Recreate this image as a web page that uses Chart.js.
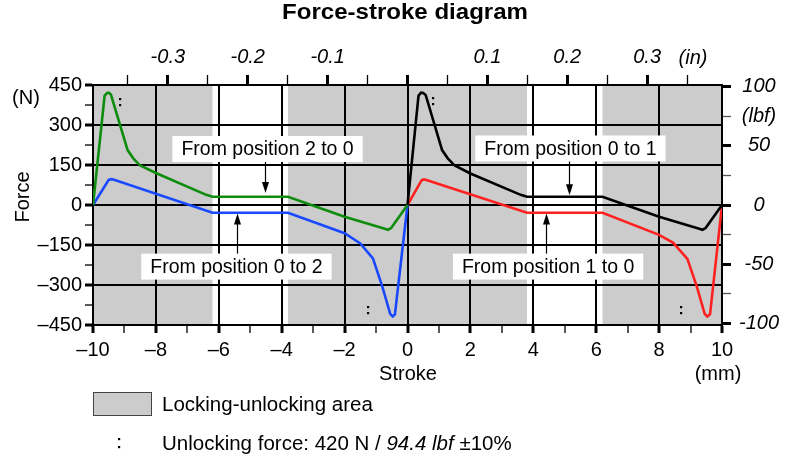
<!DOCTYPE html>
<html>
<head>
<meta charset="utf-8">
<title>Force-stroke diagram</title>
<script src="https://cdn.jsdelivr.net/npm/chart.js"></script>
<style>
  html, body { margin: 0; padding: 0; background: #fff; }
  #Chart { display: block; }
</style>
</head>
<body>
<canvas id="Chart" width="797" height="454"></canvas>
<script>
// stroke in mm, force in N
const stroke2to0 = [-10, -9.63, -9.55, -9.5, -9.43, -8.9, -8.72, -8.5, -8.0, -6.4, -6.2, -3.8, -2.0, -0.75, -0.62, -0.52, 0];
const force2to0 = [0, 410, 420, 421, 414, 206, 175, 148, 120, 38, 31, 31, -44, -88, -93, -86, 0];

const stroke0to2 = [-10, -9.5, -9.42, -9.33, -6.2, -3.8, -2.0, -1.5, -1.1, -0.8, -0.55, -0.47, -0.4, 0];
const force0to2 = [0, 94, 97, 95, -29, -29, -106, -144, -200, -306, -408, -418, -410, 0];

const stroke0to1 = [0, 0.35, 0.43, 0.5, 0.58, 1.1, 1.28, 1.5, 2.0, 3.6, 3.8, 6.2, 8.0, 9.25, 9.38, 9.48, 10];
const force0to1 = [0, 410, 421, 420, 412, 206, 175, 148, 118, 38, 31, 31, -44, -88, -93, -86, 0];

const stroke1to0 = [0, 0.45, 0.52, 0.6, 3.8, 6.2, 8.0, 8.45, 8.9, 9.2, 9.45, 9.53, 9.62, 10];
const force1to0 = [0, 93, 96, 94, -29, -29, -112, -142, -202, -306, -408, -418, -410, 0];

const lockZones = [[-10, -6.2], [-3.8, 3.8], [6.2, 10]];

const strokeRange = [-10, 10];
const forceRange = [-450, 450];
const strokeTicks = [-10, -8, -6, -4, -2, 0, 2, 4, 6, 8, 10];
const forceTicks = [-450, -300, -150, 0, 150, 300, 450];
const inchTicks = [-0.3, -0.2, -0.1, 0.1, 0.2, 0.3];
const lbfTicks = [-100, -50, 0, 50, 100];

const unlockForce = 420;      // N
const unlockForceLbf = 94.4;  // lbf

const MM_PER_IN = 25.4;
const N_PER_LBF = 4.44822;

const FONT = '"Liberation Sans", Arial, Helvetica, sans-serif';
Chart.defaults.font.family = FONT;
Chart.defaults.font.size = 20;
Chart.defaults.color = '#000';

const near = (list, v) => list.some(t => Math.abs(t - v) < 1e-6);
const enDash = v => (v < 0 ? '\u2013' + Math.abs(v) : String(v));
const isWhole = (v, step) => Math.abs(Math.round(v / step) - v / step) < 1e-6;

const series = [
  { label: 'From position 2 to 0', xs: stroke2to0, ys: force2to0, color: '#0e8c0e' },
  { label: 'From position 0 to 2', xs: stroke0to2, ys: force0to2, color: '#1948ff' },
  { label: 'From position 0 to 1', xs: stroke0to1, ys: force0to1, color: '#000000' },
  { label: 'From position 1 to 0', xs: stroke1to0, ys: force1to0, color: '#ff2020' }
];

// text boxes with an arrow pointing at the flat part of a curve (data units)
const callouts = [
  { text: 'From position 2 to 0', x: -4.45, y: 210, arrowX: -4.53, tipY: 45 },
  { text: 'From position 0 to 2', x: -5.44, y: -231, arrowX: -5.41, tipY: -32 },
  { text: 'From position 0 to 1', x: 5.18, y: 212, arrowX: 5.14, tipY: 37 },
  { text: 'From position 1 to 0', x: 4.47, y: -231, arrowX: 4.39, tipY: -32 }
];

// ':' marks next to the unlocking peaks
const peakMarks = [[-9.14, 388], [0.8, 390], [-1.25, -394], [8.69, -392]];

function drawColon(ctx, x, y, gap) {
  ctx.fillRect(Math.round(x) - 1, Math.round(y - gap / 2) - 1, 2.2, 2.2);
  ctx.fillRect(Math.round(x) - 1, Math.round(y + gap / 2) - 1, 2.2, 2.2);
}

const decorations = {
  id: 'decorations',
  beforeDraw(chart) {
    const { ctx, chartArea: a, scales: { x } } = chart;
    ctx.save();
    ctx.fillStyle = '#cccccc';
    lockZones.forEach(([from, to]) => {
      const l = x.getPixelForValue(from);
      const r = x.getPixelForValue(to);
      ctx.fillRect(l, a.top, r - l, a.bottom - a.top);
    });
    ctx.restore();
  },
  beforeDatasetsDraw(chart) {
    const { ctx, scales: { x, y } } = chart;
    ctx.save();
    ctx.font = '19.5px ' + FONT;
    ctx.textAlign = 'center';
    ctx.textBaseline = 'middle';
    callouts.forEach(c => {
      const cx = x.getPixelForValue(c.x);
      const cy = y.getPixelForValue(c.y);
      const w = ctx.measureText(c.text).width + 18;
      const h = 26;
      ctx.fillStyle = '#fff';
      ctx.fillRect(cx - w / 2, cy - h / 2, w, h);
      ctx.fillStyle = '#000';
      ctx.fillText(c.text, cx, cy + 1);

      const ax = Math.round(x.getPixelForValue(c.arrowX)) + 0.5;
      const tip = y.getPixelForValue(c.tipY);
      const down = tip > cy;
      const start = down ? cy + h / 2 : cy - h / 2;
      const dir = down ? 1 : -1;
      ctx.strokeStyle = '#000';
      ctx.lineWidth = 1.2;
      ctx.beginPath();
      ctx.moveTo(ax, start);
      ctx.lineTo(ax, tip - dir * 8);
      ctx.stroke();
      ctx.beginPath();
      ctx.moveTo(ax, tip);
      ctx.lineTo(ax - 3.5, tip - dir * 11);
      ctx.lineTo(ax + 3.5, tip - dir * 11);
      ctx.closePath();
      ctx.fill();
    });
    ctx.restore();
  },
  afterDraw(chart) {
    const { ctx, scales: { x, y } } = chart;
    ctx.save();
    ctx.fillStyle = '#000';

    // title, stretched to the same width as the printed heading
    ctx.font = 'bold 22px ' + FONT;
    ctx.textAlign = 'center';
    ctx.textBaseline = 'alphabetic';
    const title = 'Force-stroke diagram';
    const tw = ctx.measureText(title).width;
    ctx.save();
    ctx.translate(405, 19);
    ctx.scale(246 / tw, 1);
    ctx.fillText(title, 0, 0);
    ctx.restore();

    // axis titles and units
    ctx.font = '20px ' + FONT;
    ctx.fillText('Stroke', 408, 380);
    ctx.fillText('(mm)', 718, 380);
    ctx.textBaseline = 'middle';
    ctx.fillText('(N)', 26, 98);
    ctx.save();
    ctx.translate(23, 197);
    ctx.rotate(-Math.PI / 2);
    ctx.fillText('Force', 0, 0);
    ctx.restore();
    ctx.font = 'italic 20px ' + FONT;
    ctx.textBaseline = 'alphabetic';
    ctx.fillText('(in)', 693, 64);

    // unlocking marks
    peakMarks.forEach(([sx, f]) => drawColon(ctx, x.getPixelForValue(sx), y.getPixelForValue(f), 6));

    // legend
    ctx.fillStyle = '#cccccc';
    ctx.fillRect(93.5, 392.5, 58, 23);
    ctx.strokeStyle = '#444';
    ctx.lineWidth = 1;
    ctx.strokeRect(93.5, 392.5, 58, 23);
    ctx.fillStyle = '#000';
    ctx.textAlign = 'left';
    ctx.font = '20.5px ' + FONT;
    ctx.fillText('Locking-unlocking area', 162, 411);

    drawColon(ctx, 119, 443, 8);
    let tx = 162;
    const parts = [
      ['20.5px ', 'Unlocking force: ' + unlockForce + ' N / '],
      ['italic 20.5px ', unlockForceLbf.toFixed(1) + ' lbf'],
      ['20.5px ', ' \u00b110%']
    ];
    parts.forEach(([f, s]) => {
      ctx.font = f + FONT;
      ctx.fillText(s, tx, 450);
      tx += ctx.measureText(s).width;
    });
    ctx.restore();
  }
};

const tickW = (step) => c => (c.tick && isWhole(c.tick.value, step) ? 3 : 1.3);

new Chart(document.getElementById('Chart'), {
  type: 'line',
  data: {
    datasets: series.map(s => ({
      label: s.label,
      data: s.xs.map((v, i) => ({ x: v, y: s.ys[i] })),
      borderColor: s.color,
      borderWidth: 2.6,
      pointRadius: 0,
      tension: 0,
      fill: false,
      xAxisID: 'x',
      yAxisID: 'y'
    }))
  },
  options: {
    responsive: false,
    animation: false,
    devicePixelRatio: 1,
    layout: { padding: 0 },
    plugins: {
      legend: { display: false },
      tooltip: { enabled: false },
      title: { display: false }
    },
    scales: {
      x: {
        type: 'linear',
        position: 'bottom',
        min: strokeRange[0],
        max: strokeRange[1],
        afterFit: s => { s.height = 129; },
        ticks: {
          stepSize: 1,
          maxTicksLimit: 100,
          autoSkip: false,
          maxRotation: 0,
          padding: 5,
          callback: v => (near(strokeTicks, v) ? enDash(v) : '')
        },
        grid: {
          color: c => (c.tick && isWhole(c.tick.value, 2) ? '#000' : 'rgba(0,0,0,0)'),
          lineWidth: 2,
          tickLength: 8,
          tickColor: '#000',
          tickWidth: tickW(2)
        },
        border: { color: '#000', width: 2 }
      },
      x2: {
        type: 'linear',
        position: 'top',
        min: strokeRange[0] / MM_PER_IN,
        max: strokeRange[1] / MM_PER_IN,
        afterFit: s => { s.height = 85; },
        ticks: {
          stepSize: 0.05,
          includeBounds: false,
          maxTicksLimit: 100,
          autoSkip: false,
          maxRotation: 0,
          padding: 6,
          font: { style: 'italic', size: 20 },
          callback: v => (near(inchTicks, v) ? v.toFixed(1) : '')
        },
        grid: {
          drawOnChartArea: false,
          tickLength: 10,
          tickColor: '#000',
          tickWidth: tickW(0.1)
        },
        border: { display: false }
      },
      y: {
        type: 'linear',
        position: 'left',
        min: forceRange[0],
        max: forceRange[1],
        afterFit: s => { s.width = 93; },
        ticks: {
          stepSize: 75,
          maxTicksLimit: 100,
          autoSkip: false,
          padding: 3,
          callback: v => (near(forceTicks, v) ? enDash(v) : '')
        },
        grid: {
          color: c => (c.tick && isWhole(c.tick.value, 150) ? '#000' : 'rgba(0,0,0,0)'),
          lineWidth: 2,
          tickLength: 8,
          tickColor: '#000',
          tickWidth: tickW(150)
        },
        border: { color: '#000', width: 2 }
      },
      y2: {
        type: 'linear',
        position: 'right',
        min: forceRange[0] / N_PER_LBF,
        max: forceRange[1] / N_PER_LBF,
        afterFit: s => { s.width = 75; },
        ticks: {
          stepSize: 25,
          includeBounds: false,
          maxTicksLimit: 100,
          autoSkip: false,
          padding: 8,
          crossAlign: 'center',
          font: { style: 'italic', size: 20 },
          callback: v => (near(lbfTicks, v) ? String(v) : (near([75], v) ? '(lbf)' : ''))
        },
        grid: {
          drawOnChartArea: false,
          tickLength: 9,
          tickColor: c => (c.tick && isWhole(c.tick.value, 50) ? '#000' : '#555'),
          tickWidth: tickW(50)
        },
        border: { color: '#000', width: 2 }
      }
    }
  },
  plugins: [decorations]
});
</script>
</body>
</html>
